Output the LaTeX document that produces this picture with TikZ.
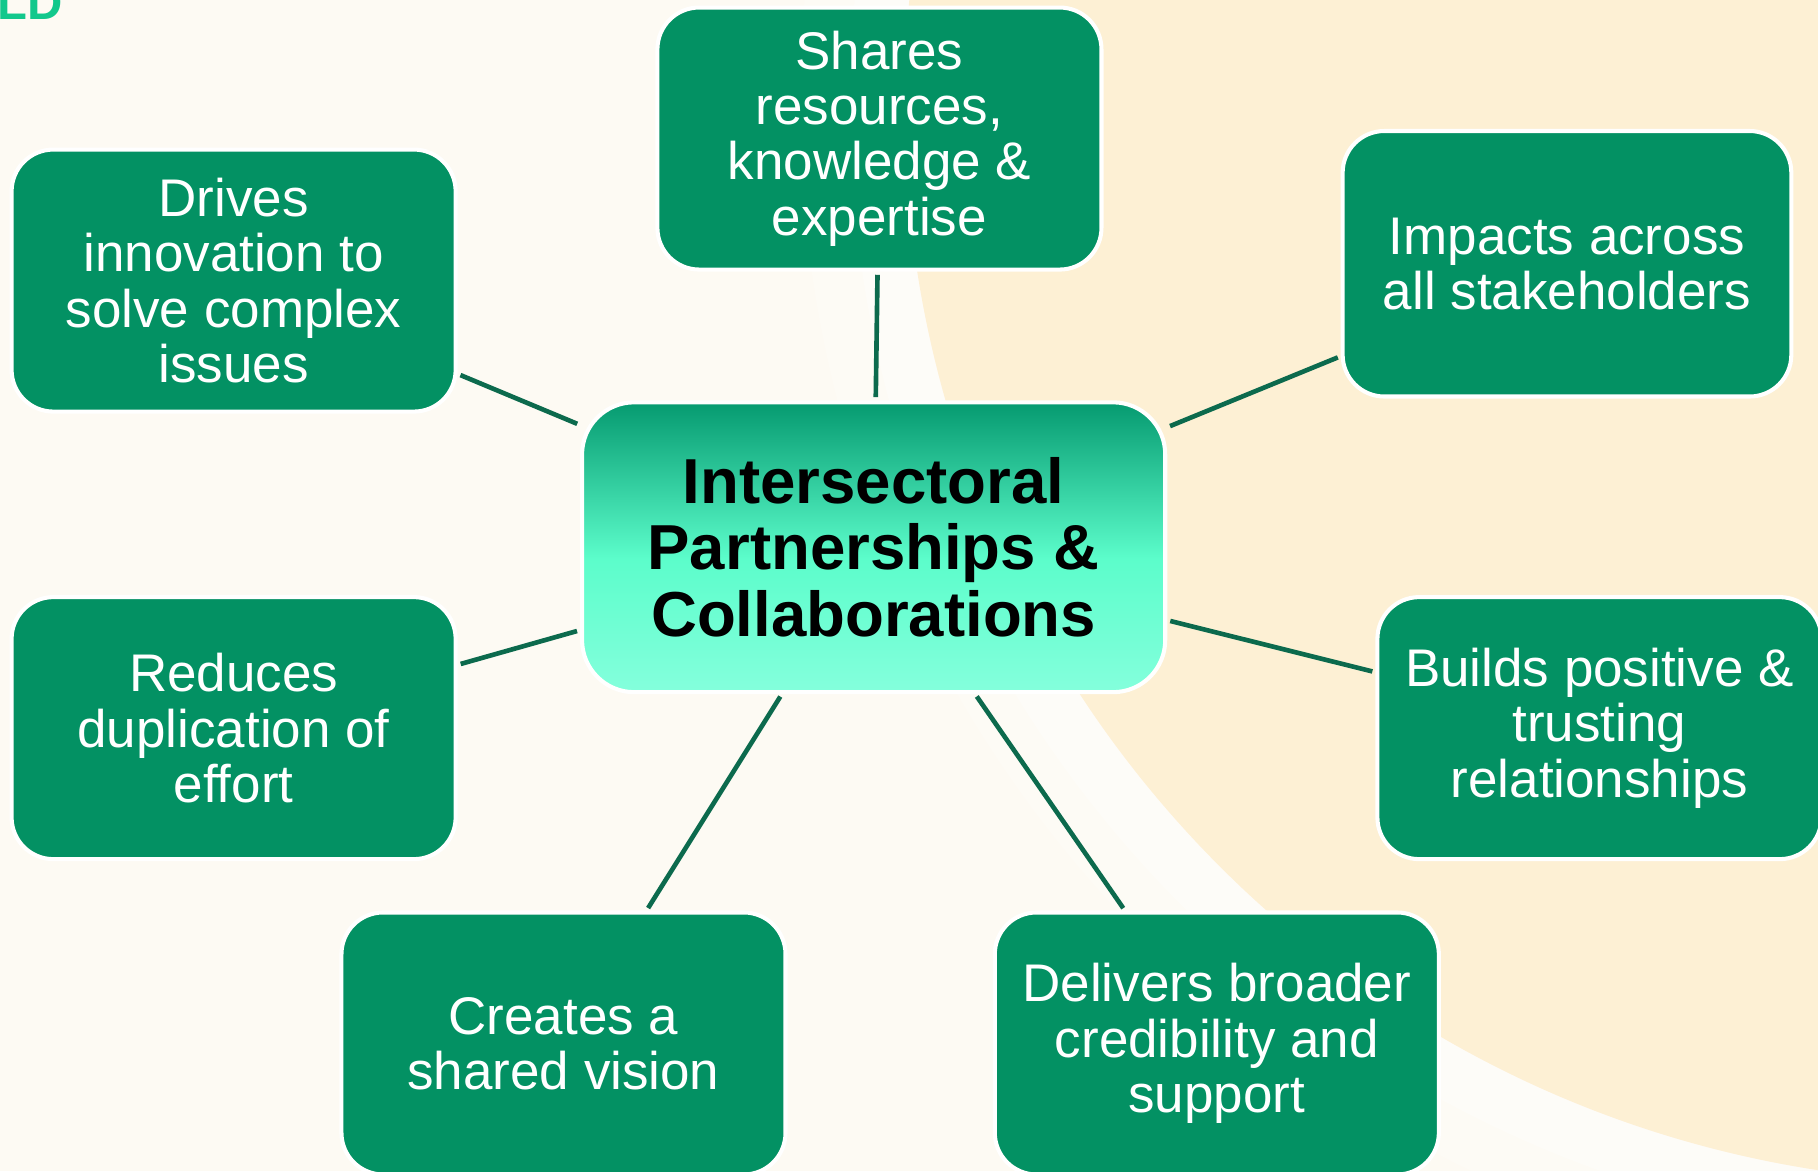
\documentclass[tikz,border=0pt]{standalone}
\usepackage{fontspec}
\setmainfont{Liberation Sans}
\definecolor{boxgreen}{RGB}{3,145,99}
\definecolor{linegreen}{RGB}{12,106,77}
\definecolor{cream}{RGB}{253,250,243}
\definecolor{peach}{RGB}{253,240,212}
\definecolor{ctop}{RGB}{6,154,112}
\definecolor{cmid}{RGB}{92,253,203}
\definecolor{cbot}{RGB}{132,255,220}
\definecolor{ldgreen}{RGB}{18,200,140}
\pgfdeclareverticalshading{cshade}{100bp}{color(0bp)=(cbot); color(25bp)=(cbot); color(48bp)=(cmid); color(75bp)=(ctop); color(100bp)=(ctop)}
\begin{document}
\begin{tikzpicture}[x=0.1mm,y=-0.1mm,
  box/.style={draw=white, line width=0.35mm, fill=boxgreen, rounded corners=3.6mm,
    minimum width=38.3mm, minimum height=22.6mm, inner sep=0pt, outer sep=0pt,
    align=center, text=white, font=\fontsize{13}{13.6}\selectfont},
  hub/.style={draw=white, line width=0.35mm, shade, shading=cshade, rounded corners=4.5mm,
    minimum width=50.3mm, minimum height=25mm, inner sep=0pt, outer sep=0pt,
    align=center, text=black, font=\bfseries\fontsize{15.6}{16.3}\selectfont},
  conn/.style={draw=linegreen, line width=0.4mm, shorten <=0.45mm, shorten >=0.45mm}]
\useasboundingbox (0,0) rectangle (1568,1010);
\clip (0,0) rectangle (1568,1010);
\fill[cream] (0,0) rectangle (1568,1010);
\draw[white, opacity=0.2, line width=9mm] (1710,90) circle (975);
\draw[white, opacity=0.3, line width=5mm] (1710,90) circle (952);
\fill[peach] (1710,90) circle (930);
\node[anchor=base west, inner sep=0pt, text=ldgreen, font=\bfseries\fontsize{12}{12}\selectfont] (ld) at (-3,17) {LD};

\node[hub] (hub) at (753.5,472) {Intersectoral\\Partnerships \&\\Collaborations};

\node[box] (drives) at (201.5,242) {Drives\\innovation to\\solve complex\\issues};
\node[box] (shares) at (758.5,119.5) {Shares\\resources,\\knowledge \&\\expertise};
\node[box, minimum width=38.7mm, minimum height=22.9mm] (impacts) at (1351.5,227.5) {Impacts across\\all stakeholders};
\node[box] (reduces) at (201.5,628) {Reduces\\duplication of\\effort};
\node[box] (builds) at (1379.5,628) {Builds positive \&\\trusting\\relationships};
\node[box] (creates) at (486,900) {Creates a\\shared vision};
\node[box] (delivers) at (1049.5,900) {Delivers broader\\credibility and\\support};

\draw[conn] (drives) -- (hub);
\draw[conn] (shares) -- (hub);
\draw[conn] (impacts) -- (hub);
\draw[conn] (reduces) -- (hub);
\draw[conn] (builds) -- (hub);
\draw[conn] (creates) -- (hub);
\draw[conn] (delivers) -- (hub);
\end{tikzpicture}
\end{document}
